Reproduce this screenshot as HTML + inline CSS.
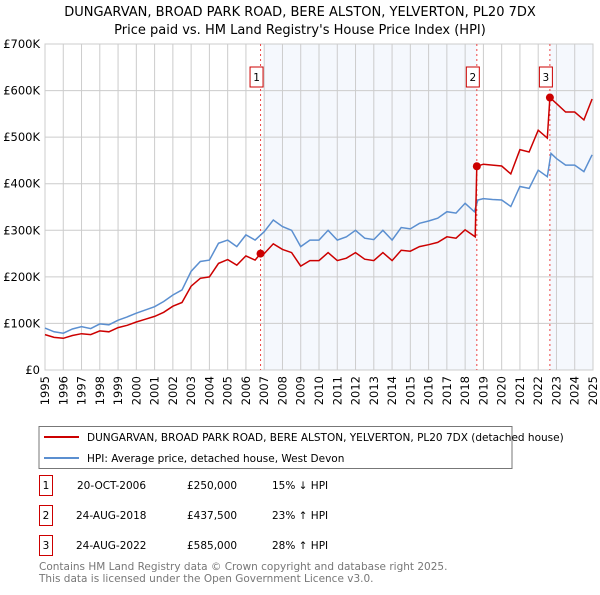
<!DOCTYPE html>
<html><head><meta charset="utf-8"><style>
body{margin:0;background:#fff;font-family:"Liberation Sans","DejaVu Sans",sans-serif}
svg text{font-family:"DejaVu Sans","Liberation Sans",sans-serif}
</style></head><body>
<svg id="c" width="600" height="590" xmlns="http://www.w3.org/2000/svg">
<text x="300" y="16" font-size="13" text-anchor="middle">DUNGARVAN, BROAD PARK ROAD, BERE ALSTON, YELVERTON, PL20 7DX</text>
<text x="300" y="34" font-size="13" text-anchor="middle">Price paid vs. HM Land Registry's House Price Index (HPI)</text>
<g id="plot"></g>
<rect x="39" y="426.5" width="473" height="42" fill="none" stroke="#777"/>
<line x1="44" y1="437" x2="79" y2="437" stroke="#cc0000" stroke-width="2"/>
<text x="87" y="441" font-size="10.5">DUNGARVAN, BROAD PARK ROAD, BERE ALSTON, YELVERTON, PL20 7DX (detached house)</text>
<line x1="44" y1="458" x2="79" y2="458" stroke="#5b8fd0" stroke-width="2"/>
<text x="87" y="462" font-size="10.5">HPI: Average price, detached house, West Devon</text>
<g font-size="10.5">
<rect x="39.5" y="475.5" width="13" height="20" fill="#fff" stroke="#cc0000"/><text x="46" y="489" text-anchor="middle">1</text>
<text x="77" y="489">20-OCT-2006</text><text x="187" y="489">£250,000</text><text x="272" y="489">15% ↓ HPI</text>
<rect x="39.5" y="505.5" width="13" height="20" fill="#fff" stroke="#cc0000"/><text x="46" y="519" text-anchor="middle">2</text>
<text x="76" y="519">24-AUG-2018</text><text x="187" y="519">£437,500</text><text x="272" y="519">23% ↑ HPI</text>
<rect x="39.5" y="535.5" width="13" height="20" fill="#fff" stroke="#cc0000"/><text x="46" y="549" text-anchor="middle">3</text>
<text x="76" y="549">24-AUG-2022</text><text x="187" y="549">£585,000</text><text x="272" y="549">28% ↑ HPI</text>
</g>
<text x="39" y="570" font-size="10.5" fill="#777">Contains HM Land Registry data © Crown copyright and database right 2025.</text>
<text x="39" y="582" font-size="10.5" fill="#777">This data is licensed under the Open Government Licence v3.0.</text>
</svg>
<script>
const hpiYears=[1995,1995.5,1996,1996.5,1997,1997.5,1998,1998.5,1999,1999.5,2000,2000.5,2001,2001.5,2002,2002.5,2003,2003.5,2004,2004.5,2005,2005.5,2006,2006.5,2007,2007.5,2008,2008.5,2009,2009.5,2010,2010.5,2011,2011.5,2012,2012.5,2013,2013.5,2014,2014.5,2015,2015.5,2016,2016.5,2017,2017.5,2018,2018.5,2018.7,2019,2019.5,2020,2020.5,2021,2021.5,2022,2022.5,2022.7,2023,2023.5,2024,2024.5,2024.95];
const hpiValues=[90,82,79,88,93,89,99,97,107,114,122,129,136,147,161,172,212,233,236,272,279,265,290,279,297,322,308,300,265,279,279,300,279,286,300,283,280,300,279,306,303,315,320,326,340,337,358,340,365,368,366,365,351,394,390,429,415,465,454,440,440,426,462];
const priceYears=[1995,1995.5,1996,1996.5,1997,1997.5,1998,1998.5,1999,1999.5,2000,2000.5,2001,2001.5,2002,2002.5,2003,2003.5,2004,2004.5,2005,2005.5,2006,2006.5,2006.8,2007,2007.5,2008,2008.5,2009,2009.5,2010,2010.5,2011,2011.5,2012,2012.5,2013,2013.5,2014,2014.5,2015,2015.5,2016,2016.5,2017,2017.5,2018,2018.55,2018.64,2019,2019.5,2020,2020.5,2021,2021.5,2022,2022.5,2022.64,2023,2023.5,2024,2024.5,2024.95];
const priceValues=[76,70,68,74,78,76,84,82,91,96,103,109,115,124,137,145,180,197,200,229,237,225,245,236,250,250,271,259,252,223,235,235,252,235,240,252,238,235,252,235,257,255,265,269,274,286,283,301,286,437.5,442,440,438,421,473,468,515,498,585,572,554,554,537,582];
const saleYears=[2006.8,2018.64,2022.64];
const saleValues=[250,437.5,585];
const saleLabels=["1","2","3"];
const yTicks=[0,100,200,300,400,500,600,700];
const yTickLabels=["£0","£100K","£200K","£300K","£400K","£500K","£600K","£700K"];
const xTicks=[1995,1996,1997,1998,1999,2000,2001,2002,2003,2004,2005,2006,2007,2008,2009,2010,2011,2012,2013,2014,2015,2016,2017,2018,2019,2020,2021,2022,2023,2024,2025];

const X0=45,X1=593,Y0=370,Y1=44;
const xs=y=>X0+(y-1995)/(2025-1995)*(X1-X0);
const ys=v=>Y0-v/700*(Y0-Y1);
const NS="http://www.w3.org/2000/svg";
const g=document.getElementById('plot');
function mk(t,a){const e=document.createElementNS(NS,t);for(const k in a)e.setAttribute(k,a[k]);g.appendChild(e);return e;}
let e;
e=mk('rect',{x:X0,y:Y1,width:X1-X0,height:Y0-Y1,fill:'#fff'});


e=mk('rect',{x:xs(2007),y:Y1,width:xs(saleYears[1])-xs(2007),height:Y0-Y1,fill:'#eef3fc',opacity:0.6});


e=mk('rect',{x:xs(saleYears[2]),y:Y1,width:X1-xs(saleYears[2]),height:Y0-Y1,fill:'#eef3fc',opacity:0.6});


xTicks.forEach((t,i)=>{
 e=mk('line',{x1:xs(t),x2:xs(t),y1:Y1,y2:Y0,stroke:'#cccccc','stroke-width':1});
 
 
 e=mk('text',{x:0,y:0,'font-size':11.5,'text-anchor':'end',transform:`translate(${xs(t)+4},${Y0+6}) rotate(-90)`});
 e.textContent=t;
 
 
});
yTicks.forEach((t,i)=>{
 e=mk('line',{x1:X0,x2:X1,y1:ys(t),y2:ys(t),stroke:'#cccccc','stroke-width':1});
 
 
 e=mk('text',{x:40,y:ys(t)+4,'font-size':11.5,'text-anchor':'end'});
 e.textContent=yTickLabels[i];
 
 
});
e=mk('rect',{x:X0,y:Y1,width:X1-X0,height:Y0-Y1,fill:'none',stroke:'#cccccc'});


saleYears.forEach((s,i)=>{
 e=mk('line',{x1:xs(s),x2:xs(s),y1:Y1,y2:Y0,stroke:'#ee4444','stroke-width':1,'stroke-dasharray':'2,3'});
 
 
});
const path=(xa,va)=>xa.map((x,i)=>(i?'L':'M')+xs(x).toFixed(1)+','+ys(va[i]).toFixed(1)).join('');
e=mk('path',{d:path(hpiYears,hpiValues),fill:'none',stroke:'#5b8fd0','stroke-width':1.5});


e=mk('path',{d:path(priceYears,priceValues),fill:'none',stroke:'#cc0000','stroke-width':1.5});


saleYears.forEach((s,i)=>{
 e=mk('circle',{cx:xs(s),cy:ys(saleValues[i]),r:4,fill:'#cc0000'});
 
 
 e=mk('rect',{x:xs(s)-10.5,y:67,width:13,height:20,fill:'#fff',stroke:'#cc0000'});
 
 
 e=mk('text',{x:xs(s)-4,y:81,'font-size':10.5,'text-anchor':'middle'});
 e.textContent=saleLabels[i];
 
 
});
</script>
</body></html>
